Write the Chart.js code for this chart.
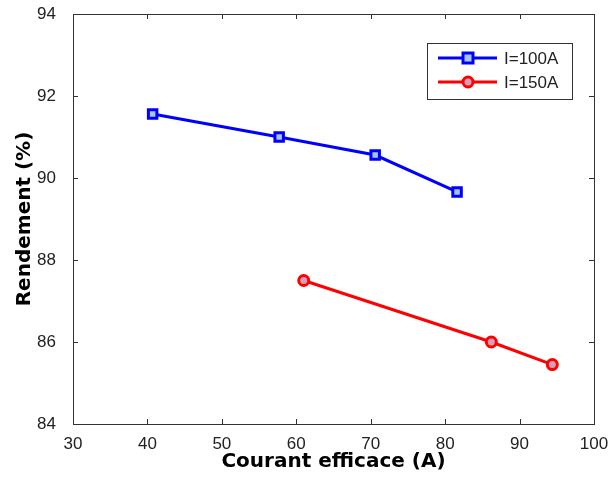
<!DOCTYPE html>
<html>
<head>
<meta charset="utf-8">
<script src="https://cdn.jsdelivr.net/npm/chart.js@4"></script>
<style>
  html, body { margin: 0; padding: 0; background: #fff; }
  #wrap { width: 610px; height: 479px; }
</style>
</head>
<body>
<div id="wrap"><canvas id="lineChart" width="610" height="479"></canvas></div>
<script>
// values
const series1Label = "I=100A";
const series1X = [40.7, 57.7, 70.6, 81.6];
const series1Y = [91.56, 91.0, 90.56, 89.66];

const series2Label = "I=150A";
const series2X = [61.0, 86.2, 94.4];
const series2Y = [87.5, 86.0, 85.45];

const xTicks = [30, 40, 50, 60, 70, 80, 90, 100];
const yTicks = [84, 86, 88, 90, 92, 94];

const FONT = "Arial, 'Liberation Sans', sans-serif";
const TITLE_FONT = "'DejaVu Sans', Arial, sans-serif";

function toPoints(xs, ys) {
    return xs.map((x, i) => ({ x: x, y: ys[i] }));
}

// MATLAB style box with inward ticks on all four sides
const boxTicks = {
    id: 'boxTicks',
    afterDraw(chart) {
        const ctx = chart.ctx;
        const a = chart.chartArea;
        const xs = chart.scales.x, ys = chart.scales.y;
        const len = 5;
        ctx.save();
        ctx.strokeStyle = "#333";
        ctx.lineWidth = 1;
        ctx.strokeRect(Math.round(a.left) + 0.5, Math.round(a.top) + 0.5,
            Math.round(a.right - a.left), Math.round(a.bottom - a.top));
        ctx.beginPath();
        xTicks.forEach(v => {
            const px = Math.round(xs.getPixelForValue(v)) + 0.5;
            ctx.moveTo(px, a.bottom); ctx.lineTo(px, a.bottom - len);
            ctx.moveTo(px, a.top); ctx.lineTo(px, a.top + len);
        });
        yTicks.forEach(v => {
            const py = Math.round(ys.getPixelForValue(v)) + 0.5;
            ctx.moveTo(a.left, py); ctx.lineTo(a.left + len, py);
            ctx.moveTo(a.right, py); ctx.lineTo(a.right - len, py);
        });
        ctx.stroke();
        ctx.restore();
    }
};

// legend box in the top right corner
const boxLegend = {
    id: 'boxLegend',
    afterDraw(chart) {
        const ctx = chart.ctx;
        const bx = 427, by = 43, bw = 145, bh = 56;
        ctx.save();
        ctx.fillStyle = "#fff";
        ctx.fillRect(bx, by, bw, bh);
        ctx.strokeStyle = "#333";
        ctx.lineWidth = 1;
        ctx.strokeRect(bx + 0.5, by + 0.5, bw, bh);
        chart.data.datasets.forEach((ds, i) => {
            const y = by + 15 + i * 24;
            ctx.strokeStyle = ds.borderColor;
            ctx.lineWidth = 3;
            ctx.beginPath();
            ctx.moveTo(438, y); ctx.lineTo(497, y);
            ctx.stroke();
            ctx.fillStyle = ds.pointBackgroundColor;
            ctx.lineWidth = 3;
            ctx.beginPath();
            if (ds.pointStyle === 'rect') {
                ctx.rect(468 - 5, y - 5, 10, 10);
            } else {
                ctx.arc(468, y, 5, 0, Math.PI * 2);
            }
            ctx.fill();
            ctx.stroke();
            ctx.fillStyle = "#222";
            ctx.font = "17px " + FONT;
            ctx.textBaseline = "middle";
            ctx.fillText(ds.label, 504, y + 1);
        });
        ctx.restore();
    }
};

const lChart = document.getElementById("lineChart");

let lineChart = new Chart(lChart, {
    type: 'scatter',
    data: {
        datasets: [
            {
                label: series1Label,
                data: toPoints(series1X, series1Y),
                showLine: true,
                borderColor: "#0000ff",
                borderWidth: 3,
                pointStyle: 'rect',
                pointRadius: 6,
                pointBorderWidth: 3,
                pointBorderColor: "#0000ff",
                pointBackgroundColor: "#a8c4f0"
            },
            {
                label: series2Label,
                data: toPoints(series2X, series2Y),
                showLine: true,
                borderColor: "#ff0000",
                borderWidth: 3,
                pointStyle: 'circle',
                pointRadius: 5,
                pointBorderWidth: 3,
                pointBorderColor: "#ff0000",
                pointBackgroundColor: "#d8a0b8"
            }
        ]
    },
    options: {
        responsive: false,
        animation: false,
        layout: { padding: { left: 0, top: 14, right: 16, bottom: 0 } },
        plugins: {
            legend: { display: false },
            tooltip: { enabled: false }
        },
        scales: {
            x: {
                type: 'linear',
                min: 30,
                max: 100,
                afterBuildTicks: (scale) => { scale.ticks = xTicks.map(v => ({ value: v })); },
                afterFit: (scale) => {
                    scale.height = 55;
                    scale.paddingLeft = 0;
                    scale.paddingRight = 0;
                },
                grid: { display: false },
                border: { display: false },
                ticks: { color: "#222", font: { family: FONT, size: 17 }, padding: 2, maxRotation: 0 },
                title: {
                    display: true,
                    text: "Courant efficace (A)",
                    color: "#000",
                    font: { family: TITLE_FONT, size: 20, weight: 'bold' },
                    padding: { top: 0, bottom: 5 }
                }
            },
            y: {
                type: 'linear',
                min: 84,
                max: 94,
                afterBuildTicks: (scale) => { scale.ticks = yTicks.map(v => ({ value: v })); },
                afterFit: (scale) => {
                    scale.width = 73;
                    scale.paddingTop = 0;
                    scale.paddingBottom = 0;
                },
                grid: { display: false },
                border: { display: false },
                ticks: { color: "#222", font: { family: FONT, size: 17 }, padding: 9 },
                title: {
                    display: true,
                    text: "Rendement (%)",
                    color: "#000",
                    font: { family: TITLE_FONT, size: 20, weight: 'bold' },
                    padding: { top: 13, bottom: 0 }
                }
            }
        }
    },
    plugins: [boxTicks, boxLegend]
});
</script>
</body>
</html>
